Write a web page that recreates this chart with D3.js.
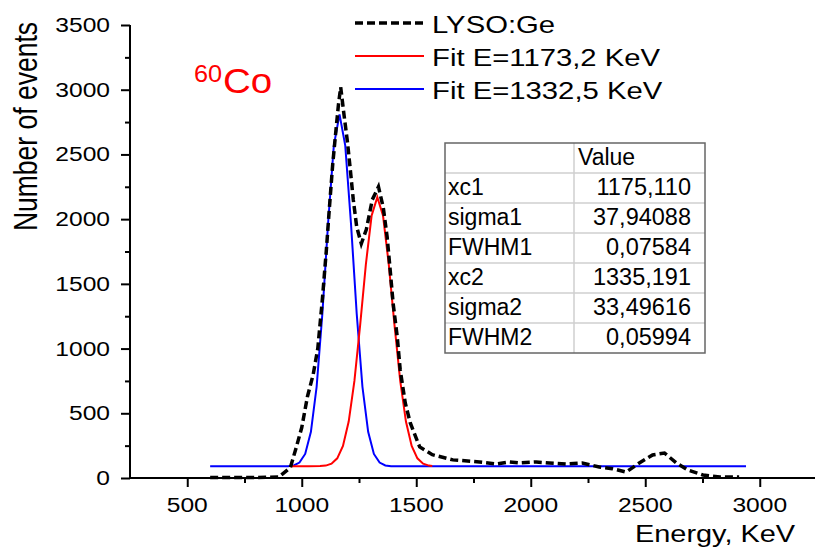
<!DOCTYPE html>
<html>
<head>
<meta charset="utf-8">
<script src="https://cdn.jsdelivr.net/npm/d3@7/dist/d3.min.js"></script>
<style>
  html, body { margin: 0; padding: 0; background: #fff; }
  svg { display: block; }
  text { font-family: "Liberation Sans", Arial, sans-serif; fill: #000; }
</style>
</head>
<body>
<svg id="chart" width="815" height="547"></svg>
<script>
// ---------------- DATA ----------------
const xTicks = [500, 1000, 1500, 2000, 2500, 3000];
const xMinorTicks = [750, 1250, 1750, 2250, 2750, 3250];
const yTicks = [0, 500, 1000, 1500, 2000, 2500, 3000, 3500];
const yMinorTicks = [250, 750, 1250, 1750, 2250, 2750, 3250];

// measured spectrum (LYSO:Ge)
const dataEnergy = [600, 700, 800, 900, 950, 975, 1000, 1025, 1050, 1070, 1090, 1107, 1120, 1135, 1150, 1160, 1170, 1185, 1200, 1215, 1225, 1240, 1260, 1282, 1308, 1335, 1356, 1373, 1386, 1399, 1417, 1430, 1452, 1474, 1515, 1570, 1660, 1776, 1850, 1906, 1950, 2024, 2081, 2155, 2225, 2299, 2356, 2417, 2474, 2532, 2584, 2636, 2686, 2752, 2826, 2910];
const dataCounts = [3, 3, 3, 8, 80, 230, 390, 630, 800, 1000, 1380, 1750, 2070, 2420, 2700, 2880, 3020, 2800, 2590, 2330, 2150, 1940, 1810, 1920, 2150, 2250, 2090, 1860, 1610, 1350, 1090, 835, 580, 425, 240, 180, 140, 124, 108, 124, 116, 124, 116, 108, 116, 85, 72, 46, 116, 178, 193, 116, 62, 23, 8, 8];

// fit curve (red)
const redEnergy = [950, 1030, 1080, 1105, 1130, 1155, 1180, 1205, 1230, 1255, 1280, 1305, 1330, 1355, 1380, 1405, 1430, 1455, 1480, 1505, 1530, 1555, 1570];
const redCounts = [90, 90, 92, 96, 111, 152, 247, 436, 750, 1181, 1651, 2026, 2170, 2026, 1651, 1181, 750, 436, 247, 152, 111, 96, 93];

// fit curve (blue)
const blueEnergy = [600, 900, 940, 965, 990, 1015, 1040, 1065, 1090, 1115, 1140, 1165, 1190, 1215, 1240, 1265, 1290, 1315, 1340, 1365, 1390, 1450, 2940];
const blueCounts = [90, 90, 91, 97, 119, 186, 357, 705, 1269, 1966, 2568, 2810, 2568, 1966, 1269, 705, 357, 186, 119, 97, 91, 90, 90];

const legendLabels = ["LYSO:Ge", "Fit E=1173,2 KeV", "Fit E=1332,5 KeV"];
const tableHeader = ["", "Value"];
const tableParams = ["xc1", "sigma1", "FWHM1", "xc2", "sigma2", "FWHM2"];
const tableValues = ["1175,110", "37,94088", "0,07584", "1335,191", "33,49616", "0,05994"];

// ---------------- CHART ----------------
const svg = d3.select("#chart");
const x = d3.scaleLinear().domain([250, 3250]).range([130, 817]);
const y = d3.scaleLinear().domain([0, 3500]).range([478, 25]);

const SX = 1.23; // horizontal stretch of text in reference

function txt(parent, px, py, str, size, anchor, sx, fill) {
  return parent.append("text")
    .attr("transform", `translate(${px},${py}) scale(${sx},1)`)
    .attr("font-size", size)
    .attr("text-anchor", anchor || "start")
    .style("fill", fill || "#000")
    .text(str);
}

// axes
const xAxisG = svg.append("g").attr("transform", `translate(0,${y(0)})`);
xAxisG.call(d3.axisBottom(x).tickValues(xTicks).tickSize(9).tickFormat(""));
xAxisG.call(g => g.selectAll(".tick line").attr("stroke-width", 2));
xAxisG.append("g").call(d3.axisBottom(x).tickValues(xMinorTicks).tickSize(5).tickFormat(""))
  .call(g => g.select(".domain").remove())
  .call(g => g.selectAll(".tick line").attr("stroke-width", 2));
xAxisG.select(".domain").attr("stroke-width", 2).attr("d", `M${x(250)},0H815`);

const yAxisG = svg.append("g").attr("transform", `translate(${x(250)},0)`);
yAxisG.call(d3.axisLeft(y).tickValues(yTicks).tickSize(9).tickFormat(""));
yAxisG.call(g => g.selectAll(".tick line").attr("stroke-width", 2));
yAxisG.append("g").call(d3.axisLeft(y).tickValues(yMinorTicks).tickSize(5).tickFormat(""))
  .call(g => g.select(".domain").remove())
  .call(g => g.selectAll(".tick line").attr("stroke-width", 2));
yAxisG.select(".domain").attr("stroke-width", 2).attr("d", `M0,${y(3500)}V${y(0)}`);

// tick labels (stretched text)
xTicks.forEach(v => txt(svg, x(v), 512, String(v), 20, "middle", SX));
yTicks.forEach(v => txt(svg, 110, y(v) + 7, String(v), 20, "end", SX));

// axis titles
txt(svg, 635, 542, "Energy, KeV", 23.5, "start", SX);
svg.append("text")
  .attr("transform", `translate(37,22) scale(1.25,1) rotate(-90)`)
  .attr("font-size", 26.5)
  .attr("text-anchor", "end")
  .text("Number of events");

// curves
const lineGen = d3.line().x(d => x(d[0])).y(d => y(d[1]));
const bluePts = blueEnergy.map((e, i) => [e, blueCounts[i]]);
const redPts = redEnergy.map((e, i) => [e, redCounts[i]]);
const dataPts = dataEnergy.map((e, i) => [e, dataCounts[i]]);

svg.append("path").datum(bluePts).attr("d", lineGen)
  .attr("fill", "none").attr("stroke", "#0000ff").attr("stroke-width", 2);
svg.append("path").datum(redPts).attr("d", lineGen)
  .attr("fill", "none").attr("stroke", "#ff0000").attr("stroke-width", 2);
svg.append("path").datum(dataPts).attr("d", lineGen)
  .attr("fill", "none").attr("stroke", "#000").attr("stroke-width", 3.5)
  .attr("stroke-dasharray", "8,4");

// 60Co label
txt(svg, 194, 82, "60", 23, "start", 1.1, "#ff0000");
txt(svg, 223, 93, "Co", 35, "start", 1.1, "#ff0000");

// legend
const legY = [23, 56, 89];
const legStyles = [
  { stroke: "#000", width: 3.5, dash: "8,4" },
  { stroke: "#ff0000", width: 2, dash: null },
  { stroke: "#0000ff", width: 2, dash: null }
];
legendLabels.forEach((lab, i) => {
  const s = legStyles[i];
  svg.append("line").attr("x1", 355).attr("x2", 424)
    .attr("y1", legY[i]).attr("y2", legY[i])
    .attr("stroke", s.stroke).attr("stroke-width", s.width)
    .attr("stroke-dasharray", s.dash);
  txt(svg, 432, legY[i] + 9.5, lab, 24, "start", 1.22);
});

// table
const tX = 445, tY = 143, tW = 260, rowH = 30, colX = 574;
const nRows = tableParams.length + 1;
const tg = svg.append("g");
tg.append("rect").attr("x", tX).attr("y", tY).attr("width", tW).attr("height", rowH * nRows)
  .attr("fill", "#fff").attr("stroke", "none");
for (let i = 1; i < nRows; i++) {
  tg.append("line").attr("x1", tX).attr("x2", tX + tW)
    .attr("y1", tY + i * rowH).attr("y2", tY + i * rowH)
    .attr("stroke", "#cfcfcf").attr("stroke-width", 1.5);
}
tg.append("line").attr("x1", colX).attr("x2", colX).attr("y1", tY).attr("y2", tY + rowH * nRows)
  .attr("stroke", "#cfcfcf").attr("stroke-width", 1.5);
tg.append("rect").attr("x", tX).attr("y", tY).attr("width", tW).attr("height", rowH * nRows)
  .attr("fill", "none").attr("stroke", "#666").attr("stroke-width", 1.5);
txt(tg, 578, tY + 22, tableHeader[1], 23, "start", 1);
tableParams.forEach((p, i) => {
  const by = tY + (i + 1) * rowH + 22;
  txt(tg, 448, by, p, 23, "start", 1);
  txt(tg, 691, by, tableValues[i], 23.5, "end", 1);
});
</script>
</body>
</html>
